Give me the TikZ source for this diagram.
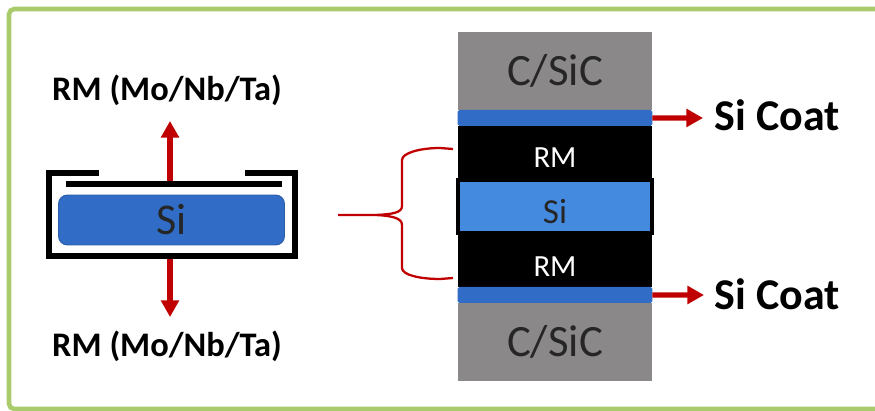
\documentclass[tikz,border=0pt]{standalone}
\usepackage{fontspec}
\setmainfont{Carlito}
\usetikzlibrary{positioning}
\usetikzlibrary{arrows.meta}
\definecolor{framegreen}{HTML}{A9CB6C}
\definecolor{arrowred}{HTML}{C00000}
\definecolor{coatblue}{HTML}{316CC6}
\definecolor{siblue}{HTML}{448BE0}
\definecolor{cgray}{HTML}{8A8888}
\tikzset{
  layer/.style={draw=none, inner sep=0pt, outer sep=0pt, minimum width=3.9cm},
  csic/.style={layer, fill=cgray, minimum height=1.56cm, text=black!85, font=\fontsize{25.5}{25.5}\selectfont},
  coat/.style={layer, fill=coatblue, rounded corners=1pt, minimum height=0.32cm},
  rmlayer/.style={layer, fill=black, minimum height=1.04cm, text=white, text height=17.8pt, text depth=0pt, font=\fontsize{17.5}{17.5}\selectfont},
  label/.style={inner sep=0pt, font=\bfseries\fontsize{19.6}{19.6}\selectfont},
  coatlabel/.style={inner sep=0pt, font=\bfseries\fontsize{25}{25}\selectfont},
  redarrow/.style={draw=arrowred, line width=3pt, -{Triangle[length=9.5pt,width=10pt]}},
  bracket/.style={draw=arrowred, line width=1.3pt},
  capwall/.style={fill=black, inner sep=0pt, outer sep=0pt},
}
\begin{document}
\begin{tikzpicture}[x=0.02cm, y=-0.02cm]
  \useasboundingbox (0,0) rectangle (875,411);

  % Outer frame
  \draw[framegreen, line width=2.6pt, rounded corners=3pt] (875,9) -- (9,9) -- (9,409) -- (875,409);

  % Define nodes
  \node[csic] (ctop) at (555,71) {C/SiC};
  \node[coat, below=0cm of ctop] (coattop) {};
  \node[rmlayer, below=0cm of coattop] (rmtop) {RM};
  \node[layer, fill=siblue, draw=black, line width=2.3pt, outer sep=1.15pt, minimum width=3.88cm, minimum height=1.06cm, text=black!85, text height=19pt, text depth=0pt, font=\fontsize{20}{20}\selectfont, below=0cm of rmtop] (si) {Si};
  \node[rmlayer, below=0cm of si] (rmbot) {RM};
  \node[coat, below=0cm of rmbot] (coatbot) {};
  \node[csic, below=0cm of coatbot] (cbot) {C/SiC};

  \node[coatlabel, right=1.24cm of coattop, yshift=0.06cm] (sitop) {Si Coat};
  \node[coatlabel, right=1.24cm of coatbot, yshift=0.02cm] (sibot) {Si Coat};

  % Capsule
  \node[capwall, minimum width=5.04cm, minimum height=0.12cm] (capbase) at (172,256) {};
  \node[capwall, minimum width=0.12cm, minimum height=1.78cm, above right=0cm and 0cm of capbase.south west] (capleft) {};
  \node[capwall, minimum width=0.12cm, minimum height=1.78cm, above left=0cm and 0cm of capbase.south east] (capright) {};
  \node[capwall, minimum width=1.06cm, minimum height=0.12cm, below right=0cm and 0cm of capleft.north west] (lidleft) {};
  \node[capwall, minimum width=1.06cm, minimum height=0.12cm, below left=0cm and 0cm of capright.north east] (lidright) {};
  \node[capwall, minimum width=4.32cm, minimum height=0.13cm] (capbar) at (174,184) {};
  \node[draw=coatblue!85!black, fill=coatblue, rounded corners=5pt, line width=0.5pt, minimum width=4.52cm, minimum height=1.0cm, inner sep=0pt, text=black!85, font=\fontsize{25}{25}\selectfont] (sicap) at (171.5,220) {Si};

  \node[label] (rmup) at (167,90) {RM (Mo/Nb/Ta)};
  \node[label] (rmdown) at (167,346) {RM (Mo/Nb/Ta)};

  % Free ends
  \coordinate (upend) at (170,121);
  \coordinate (downend) at (170,317);
  \coordinate (bracetip) at (338,215);
  \coordinate (braceknee) at (377,215);
  \coordinate (braceup) at (453,149);
  \coordinate (bracedown) at (453,278);
  \coordinate (coatendtop) at (703,118);
  \coordinate (coatendbot) at (704,295);

  % Connect the nodes
  \draw[redarrow] (capbar.north -| upend) -- (upend);
  \draw[redarrow] (capbase.south -| downend) -- (downend);
  \draw[redarrow] (coattop.east) -- (coatendtop);
  \draw[redarrow] (coatbot.east) -- (coatendbot);
  \draw[bracket] (bracetip) -- (braceknee)
    .. controls (392,214) and (402,213) .. (402,206) -- (402,160)
    .. controls (402,153) and (420,148) .. (440,148) -- (braceup);
  \draw[bracket] (braceknee)
    .. controls (392,216) and (402,218) .. (402,225) -- (402,268)
    .. controls (402,275) and (420,279) .. (440,279) -- (bracedown);

\end{tikzpicture}
\end{document}
